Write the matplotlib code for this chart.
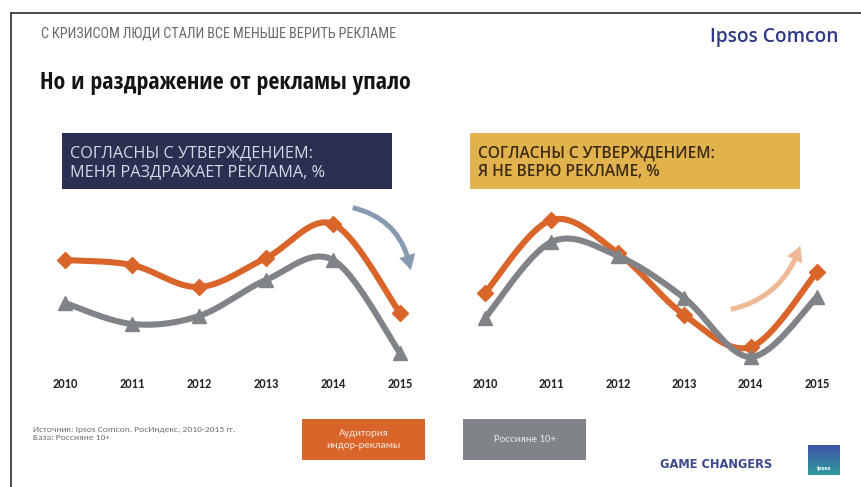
import numpy as np
import matplotlib
matplotlib.use("Agg")
import matplotlib.pyplot as plt
from matplotlib.patches import Rectangle, FancyArrowPatch
from matplotlib.lines import Line2D

# ---- data -----------------------------------------------------------------
years = [2010, 2011, 2012, 2013, 2014, 2015]
year_labels = ["2010", "2011", "2012", "2013", "2014", "2015"]

# "Меня раздражает реклама", %
irritation_indoor = [28.0, 27.0, 22.6, 28.4, 35.2, 17.4]
irritation_russians = [19.4, 15.2, 16.8, 24.0, 28.0, 9.4]

# "Я не верю рекламе", %
distrust_indoor = [21.4, 36.0, 29.4, 17.0, 10.6, 25.6]
distrust_russians = [16.4, 31.6, 28.8, 20.4, 8.6, 20.6]

series_names = ["Аудитория\nиндор-рекламы", "Россияне 10+"]

# ---- style ----------------------------------------------------------------
ORANGE = "#d9652b"
GREY = "#808387"
NAVY = "#2b2f52"
GOLD = "#e2b34c"

W, H = 861, 487
fig = plt.figure(figsize=(W / 100, H / 100), dpi=100)
fig.patch.set_facecolor("white")


def fx(x):
    return x / W


def fy(y):
    return 1 - y / H


def smooth(xs, ys, n=40):
    """Catmull-Rom curve through the points (Excel-style smoothed line)."""
    p = np.column_stack([xs, ys]).astype(float)
    p = np.vstack([p[0], p, p[-1]])
    out = []
    t = np.linspace(0, 1, n)[:, None]
    for i in range(1, len(p) - 2):
        p0, p1, p2, p3 = p[i - 1], p[i], p[i + 1], p[i + 2]
        seg = 0.5 * ((2 * p1) + (-p0 + p2) * t +
                     (2 * p0 - 5 * p1 + 4 * p2 - p3) * t ** 2 +
                     (-p0 + 3 * p1 - 3 * p2 + p3) * t ** 3)
        out.append(seg if i == 1 else seg[1:])
    c = np.vstack(out)
    return c[:, 0], c[:, 1]


def panel(rect, xlim, a, b):
    ax = fig.add_axes(rect)
    ax.set_xlim(*xlim)
    ax.set_ylim(5.6, 41)
    for s in ax.spines.values():
        s.set_visible(False)
    ax.set_yticks([])
    ax.set_xticks(years)
    ax.set_xticklabels(year_labels, family=["Carlito", "DejaVu Sans"],
                       fontweight="bold", fontsize=9, color="#262626")
    ax.tick_params(axis="x", length=0, pad=4)
    ax.patch.set_alpha(0)
    sx, sy = smooth(years, a)
    ax.plot(sx, sy, color=ORANGE, lw=4.4, solid_capstyle="round", zorder=2)
    ax.plot(years, a, ls="none", marker="D", ms=8.5, color=ORANGE, zorder=3)
    sx, sy = smooth(years, b)
    ax.plot(sx, sy, color=GREY, lw=4.4, solid_capstyle="round", zorder=4)
    ax.plot(years, b, ls="none", marker="^", ms=10.5, color=GREY, zorder=5)
    return ax


panel([fx(40), fy(372), fx(385), 177 / H],
      (2010 - 25 / 67, 2015 + 25 / 67), irritation_indoor, irritation_russians)
panel([fx(460), fy(372), fx(382), 177 / H],
      (2010 - 25 / 66.4, 2015 + 25 / 66.4), distrust_indoor, distrust_russians)

# ---- frame ----------------------------------------------------------------
fig.add_artist(Line2D([fx(11), fx(11)], [fy(13), 0], color="#3c3c3c", lw=1.3))
fig.add_artist(Line2D([fx(11), 1], [fy(13), fy(13)], color="#3c3c3c", lw=1.3))

# ---- header ---------------------------------------------------------------
fig.text(fx(41), fy(34), "С КРИЗИСОМ ЛЮДИ СТАЛИ ВСЕ МЕНЬШЕ ВЕРИТЬ РЕКЛАМЕ",
         family=["Barlow Condensed", "Roboto Condensed", "DejaVu Sans"],
         fontweight="normal", fontsize=10.3, color="#6a6a6a", va="center", ha="left")
fig.text(fx(40), fy(83), "Но и раздражение от рекламы упало",
         family=["Open Sans Condensed", "DejaVu Sans"], fontweight="bold",
         fontsize=17.2, color="#141414", va="center", ha="left")
fig.text(fx(838), fy(37), "Ipsos Comcon",
         family=["Open Sans", "DejaVu Sans"], fontweight="semibold",
         fontsize=13.8, color="#2f3a86", va="center", ha="right")

# ---- panel caption boxes --------------------------------------------------
fig.add_artist(Rectangle((fx(62), fy(189)), fx(330), 56 / H,
                         transform=fig.transFigure, facecolor=NAVY, edgecolor="none"))
fig.text(fx(70), fy(163), "СОГЛАСНЫ С УТВЕРЖДЕНИЕМ:\nМЕНЯ РАЗДРАЖАЕТ РЕКЛАМА, %",
         family=["Open Sans", "DejaVu Sans"], fontsize=11.7, color="#d8dae4",
         va="center", ha="left", linespacing=1.25)

fig.add_artist(Rectangle((fx(470), fy(189)), fx(330), 56 / H,
                         transform=fig.transFigure, facecolor=GOLD, edgecolor="none"))
fig.text(fx(478), fy(163), "СОГЛАСНЫ С УТВЕРЖДЕНИЕМ:\nЯ НЕ ВЕРЮ РЕКЛАМЕ, %",
         family=["Open Sans", "DejaVu Sans"], fontsize=11.2, color="#3b2a12",
         fontweight="semibold", va="center", ha="left", linespacing=1.25)

# ---- trend arrows ---------------------------------------------------------
fig.add_artist(FancyArrowPatch((fx(350), fy(207)), (fx(411), fy(273)),
                               transform=fig.transFigure,
                               connectionstyle="arc3,rad=-0.35",
                               arrowstyle="simple,head_length=0.9,head_width=1.0,tail_width=0.3",
                               mutation_scale=12, color="#7990aa", alpha=0.9, lw=0))
fig.add_artist(FancyArrowPatch((fx(728), fy(310)), (fx(801), fy(243)),
                               transform=fig.transFigure,
                               connectionstyle="arc3,rad=0.3",
                               arrowstyle="simple,head_length=0.9,head_width=1.0,tail_width=0.3",
                               mutation_scale=12, color="#efb28b", alpha=0.9, lw=0))

# ---- footer ---------------------------------------------------------------
fig.text(fx(33), fy(433.5), "Источник: Ipsos Comcon. РосИндекс, 2010-2015 гг.\nБаза: Россияне 10+",
         family=["Carlito", "DejaVu Sans"], fontsize=6.8, color="#707070",
         va="center", ha="left", linespacing=1.25)

fig.add_artist(Rectangle((fx(302), fy(460)), fx(123), 41 / H,
                         transform=fig.transFigure, facecolor=ORANGE, edgecolor="none"))
fig.text(fx(363.5), fy(439.5), series_names[0], family=["Carlito", "DejaVu Sans"],
         fontsize=7.8, color="#f6e4d8", ha="center", va="center", linespacing=1.4)
fig.add_artist(Rectangle((fx(463), fy(460)), fx(123), 41 / H,
                         transform=fig.transFigure, facecolor=GREY, edgecolor="none"))
fig.text(fx(524.5), fy(439.5), series_names[1], family=["Carlito", "DejaVu Sans"],
         fontsize=7.8, color="#e8e9ec", ha="center", va="center")

fig.text(fx(660), fy(465), "GAME CHANGERS", family=["DejaVu Sans"], fontweight="bold",
         fontsize=8.3, color="#3d4a8c", ha="left", va="center")

logo = fig.add_axes([fx(808), fy(475), fx(32), 30 / H])
grad = np.linspace(0, 1, 64)[:, None]
logo.imshow(grad, aspect="auto", extent=(0, 1, 0, 1),
            cmap=matplotlib.colors.LinearSegmentedColormap.from_list(
                "ipsos", ["#2f9a9e", "#3d55a6"]), origin="lower")
logo.text(0.5, 0.22, "Ipsos", color="white", fontsize=3.5, ha="center",
          va="center", fontweight="bold", transform=logo.transAxes)
logo.set_axis_off()

fig.savefig("out.png", dpi=100, facecolor="white")
